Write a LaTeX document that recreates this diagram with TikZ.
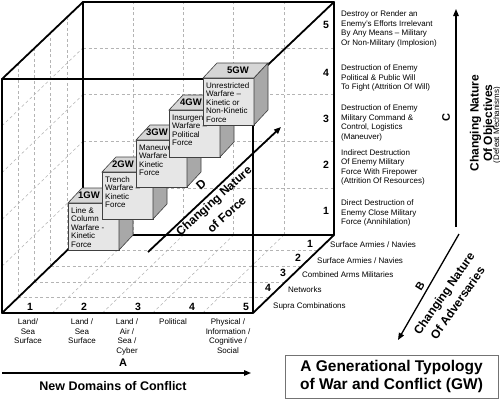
\documentclass[tikz,border=0pt]{standalone}
\usepackage{fontspec}
\setmainfont{Liberation Sans}
\usetikzlibrary{arrows.meta}
\definecolor{cf}{HTML}{E6E6E6}
\definecolor{ct}{HTML}{D6D6D6}
\definecolor{cs}{HTML}{A8A8A8}
\definecolor{gridc}{HTML}{B4B4B4}
\newcommand\grd[3]{({2+50.2*(#1)+16.2*(#2)},{313-46.8*(#3)-15.6*(#2)})}
\newcommand\gwcube[6]{%
  \filldraw[cfront] (#1,#2) rectangle ({#1+51},{#2+47});
  \filldraw[ctop] (#1,#2) -- ({#1+14},{#2-15}) -- ({#1+65},{#2-15}) -- ({#1+51},#2) -- cycle;
  \filldraw[cside] ({#1+51},#2) -- ({#1+65},{#2-15}) -- ({#1+65},{#2+32}) -- ({#1+51},{#2+47}) -- cycle;
  \node[glabel] (#6lab) at ({#1+#4},{#2-7.5}) {#3};
  \node[ctext] (#6txt) at ({#1+3},{#2+4.5}) {#5};
}
\begin{document}
\begin{tikzpicture}[x=1pt,y=-1pt,
  edge/.style={line width=1.8pt, line cap=round, line join=round},
  gridln/.style={draw=gridc, dash pattern=on 3pt off 2.5pt, line width=0.55pt},
  cfront/.style={fill=cf, draw=black!75, line width=0.6pt},
  ctop/.style={fill=ct, draw=black!75, line width=0.6pt},
  cside/.style={fill=cs, draw=black!75, line width=0.6pt},
  ctext/.style={font=\fontsize{8}{8.4}\selectfont, align=left, anchor=north west, inner sep=0pt},
  glabel/.style={font=\fontsize{9.5}{10}\selectfont\bfseries, anchor=east, inner sep=0pt},
  small/.style={font=\fontsize{8}{9.5}\selectfont, inner sep=0pt},
  num/.style={font=\fontsize{10.5}{12}\selectfont\bfseries, inner sep=0pt},
  big/.style={font=\fontsize{12.5}{13}\selectfont\bfseries, inner sep=0pt},
  mid/.style={font=\fontsize{12}{13}\selectfont\bfseries, inner sep=0pt},
  arr/.style={line width=1.3pt, -{Triangle[length=7pt,width=5.5pt]}},
]
\useasboundingbox (0,0) rectangle (500,400);

% ---------- dashed grid ----------
\foreach \i in {1,...,4}{
  \draw[gridln] \grd{\i}{5}{0} -- \grd{\i}{5}{5};
  \draw[gridln] \grd{\i}{0}{0} -- \grd{\i}{5}{0};
}
\foreach \k in {1,...,4}{
  \draw[gridln] \grd{0}{5}{\k} -- \grd{5}{5}{\k};
  \draw[gridln] \grd{0}{0}{\k} -- \grd{0}{5}{\k};
}
\foreach \j in {1,...,4}{
  \draw[gridln] \grd{0}{\j}{0} -- \grd{0}{\j}{5};
  \draw[gridln] \grd{0}{\j}{0} -- \grd{5}{\j}{0};
}

% ---------- cube frame ----------
\coordinate (fbl) at (2,313);  \coordinate (fbr) at (253,313);
\coordinate (ftl) at (2,79);   \coordinate (ftr) at (253,79);
\coordinate (bbl) at (83,235); \coordinate (bbr) at (334,235);
\coordinate (btl) at (83,2);   \coordinate (btr) at (334,2);
\draw[edge] (btl) -- (btr) -- (bbr) -- (bbl) -- cycle;
\draw[edge] (ftl) -- (btl) (ftr) -- (btr) (fbl) -- (bbl) (fbr) -- (bbr);
\draw[edge] (ftl) -- (ftr) -- (fbr) -- (fbl) -- cycle;

% ---------- D arrow ----------
\coordinate (d0) at (148,252);
\coordinate (d1) at (281,127);
\draw[arr, line width=1.8pt] (d0) -- (d1);

% ---------- GW cubes ----------
\gwcube{68}{203}{1GW}{32}{Line \&\\Column\\Warfare -\\Kinetic\\Force}{g1}
\gwcube{102}{172}{2GW}{32}{Trench\\Warfare –\\Kinetic\\Force}{g2}
\gwcube{136}{140}{3GW}{32}{Maneuver\\Warfare –\\Kinetic\\Force}{g3}
\gwcube{169}{110}{4GW}{33}{Insurgent\\Warfare –\\Political\\Force}{g4}
\gwcube{203}{78}{5GW}{46}{Unrestricted\\Warfare –\\Kinetic or\\Non-Kinetic\\Force}{g5}

\node[mid, rotate=42] (dlab) at (201,185) {D};
\node[mid, rotate=42] (dn1) at (214.5,201.5) {Changing Nature};
\node[mid, rotate=42] (dn2) at (226.5,214.5) {of Force};

% ---------- right column: objectives ----------
\node[num] (o5) at (326,25) {5};
\node[num] (o4) at (326,73) {4};
\node[num] (o3) at (326,119) {3};
\node[num] (o2) at (326,165) {2};
\node[num] (o1) at (326,211) {1};
\node[small, align=left, anchor=north west] (t5) at (341,10.5) {Destroy or Render an\\Enemy’s Efforts Irrelevant\\By Any Means – Military\\Or Non-Military (Implosion)};
\node[small, align=left, anchor=north west] (t4) at (341,64.5) {Destruction of Enemy\\Political \& Public Will\\To Fight (Attrition Of Will)};
\node[small, align=left, anchor=north west] (t3) at (341,104.5) {Destruction of Enemy\\Military Command \&\\Control, Logistics\\(Maneuver)};
\node[small, align=left, anchor=north west] (t2) at (341,149) {Indirect Destruction\\Of Enemy Military\\Force With Firepower\\(Attrition Of Resources)};
\node[small, align=left, anchor=north west] (t1) at (341,199.5) {Direct Destruction of\\Enemy Close Military\\Force (Annihilation)};

\node[mid, font=\fontsize{11}{12}\selectfont\bfseries, rotate=90] (clab) at (446,118) {C};
\coordinate (c0) at (456,227);
\coordinate (c1) at (456,9);
\draw[arr] (c0) -- (c1);
\node[mid, rotate=90] (cn1) at (475.5,123) {Changing Nature};
\node[mid, rotate=90] (cn2) at (489,123) {Of Objectives};
\node[small, font=\fontsize{8}{9}\selectfont, rotate=90] (cn3) at (497,125) {(Defeat Mechanisms)};

% ---------- floor: adversaries ----------
\node[num] (b1) at (310,244) {1};
\node[num] (b2) at (298,258) {2};
\node[num] (b3) at (283,273) {3};
\node[num] (b4) at (268,288) {4};
\node[small, anchor=west] (a1) at (330,245) {Surface Armies / Navies};
\node[small, anchor=west] (a2) at (317,261) {Surface Armies / Navies};
\node[small, anchor=west] (a3) at (302,275) {Combined Arms Militaries};
\node[small, anchor=west] (a4) at (288,290) {Networks};
\node[small, anchor=west] (a5) at (273,306) {Supra Combinations};

\coordinate (b0) at (459,234);
\coordinate (bE) at (398,340);
\draw[arr] (b0) -- (bE);
\node[mid, font=\fontsize{11}{12}\selectfont\bfseries, rotate=58] (blab) at (420,286) {B};
\node[mid, rotate=55] (bn1) at (445,294) {Changing Nature};
\node[mid, rotate=55] (bn2) at (457.5,303) {Of Adversaries};

% ---------- bottom: domains ----------
\node[num] (f1) at (30,307) {1};
\node[num] (f2) at (84,307) {2};
\node[num] (f3) at (138,307) {3};
\node[num] (f4) at (192,307) {4};
\node[num] (f5) at (246,307) {5};
\node[small, align=center, anchor=north] (l1) at (28,318.5) {Land/\\Sea\\Surface};
\node[small, align=center, anchor=north] (l2) at (82,318.5) {Land /\\Sea\\Surface};
\node[small, align=center, anchor=north] (l3) at (127,318.5) {Land /\\Air /\\Sea /\\Cyber};
\node[small, align=center, anchor=north] (l4) at (173,318.5) {Political};
\node[small, align=center, anchor=north] (l5) at (228,318.5) {Physical /\\Information /\\Cognitive /\\Social};

\node[mid, font=\fontsize{11}{12}\selectfont\bfseries] (alab) at (123,363) {A};
\coordinate (a0) at (2,373);
\coordinate (aE) at (251,373);
\draw[arr] (a0) -- (aE);
\node[big] (an) at (113,386) {New Domains of Conflict};

% ---------- title ----------
\node[draw=black!55, line width=0.8pt, minimum width=213pt, minimum height=43pt, inner sep=0pt,
      align=center, font=\fontsize{15.5}{18}\selectfont\bfseries] (title) at (391.5,376.5)
  {A Generational Typology\\of War and Conflict (GW)};
\end{tikzpicture}
\end{document}
